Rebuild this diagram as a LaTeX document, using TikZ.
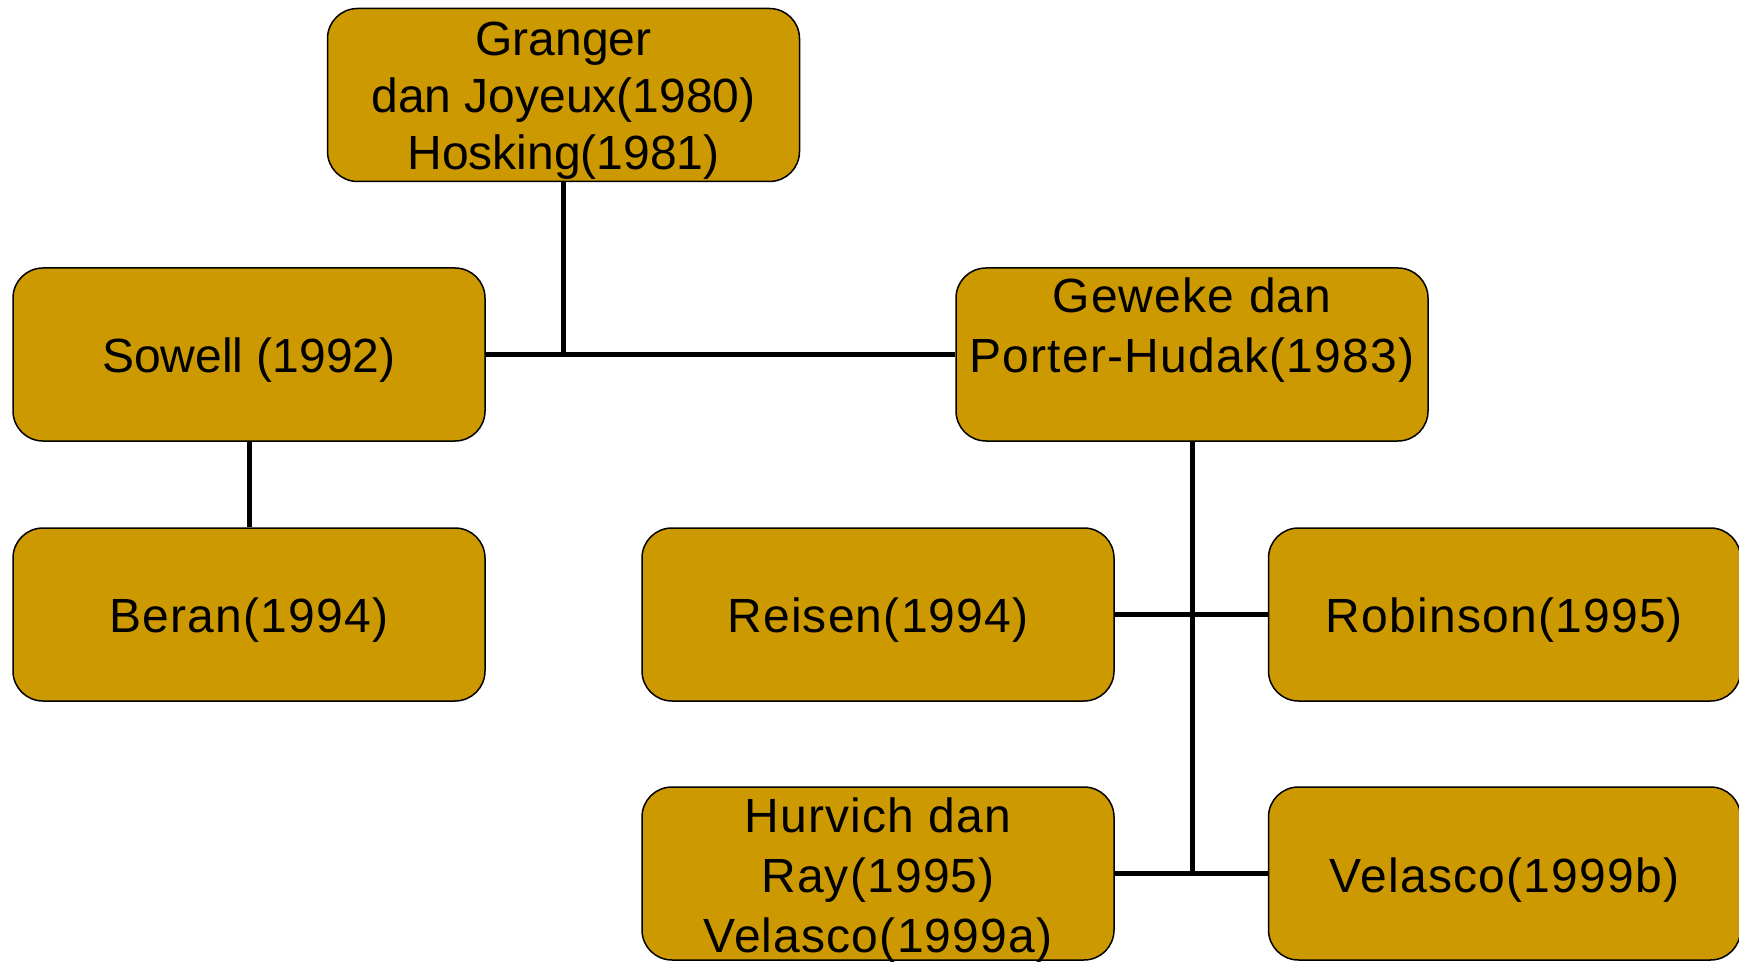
\documentclass[tikz,border=0pt]{standalone}
\usepackage{fontspec}
\setmainfont{Liberation Sans}
\newfontfamily\widefont{Liberation Sans}[LetterSpace=2.5]
\usepackage{tikz}
\definecolor{boxgold}{RGB}{204,153,0}
\tikzset{
  litbox/.style={draw=black, line width=0.75pt, fill=boxgold, rounded corners=15pt,
    minimum width=236pt, minimum height=86.5pt, inner sep=0pt},
  boxtext/.style={inner sep=0pt, align=center, font=\widefont\fontsize{24}{30}\selectfont},
  link/.style={draw=black, line width=2.5pt}
}

\begin{document}
\begin{tikzpicture}[x=0.5pt,y=0.5pt,yscale=-1,xscale=1]
\useasboundingbox (0,0) rectangle (1739,962);

%Boxes
\node [litbox] (granger) at (563.5,95) {};
\node [litbox] (sowell) at (249,354.5) {};
\node [litbox] (geweke) at (1192,354.5) {};
\node [litbox] (beran) at (249,614.5) {};
\node [litbox] (reisen) at (878,614.5) {};
\node [litbox] (robinson) at (1504.5,614.5) {};
\node [litbox] (hurvich) at (878,873.5) {};
\node [litbox] (velascob) at (1504.5,873.5) {};

% Text Nodes
\node [boxtext, font=\rmfamily\fontsize{24}{28.5}\selectfont] (granger-t) at (563.5,101) {Granger\\dan Joyeux(1980)\\Hosking(1981)};
\node [boxtext, font=\rmfamily\fontsize{24}{29}\selectfont] (sowell-t) at (249,360.5) {Sowell (1992)};
\node [boxtext] (geweke-t) at (1192,330.5) {Geweke dan\\Porter-Hudak(1983)};
\node [boxtext] (beran-t) at (249,620.5) {Beran(1994)};
\node [boxtext] (reisen-t) at (878,620.5) {Reisen(1994)};
\node [boxtext] (robinson-t) at (1504.5,620.5) {Robinson(1995)};
\node [boxtext] (hurvich-t) at (878,880) {Hurvich dan\\Ray(1995)\\Velasco(1999a)};
\node [boxtext] (velascob-t) at (1504.5,880) {Velasco(1999b)};

%Connectors
\draw [link] (granger.south) -- (granger.south |- sowell.east);
\draw [link] (sowell.east) -- (geweke.west);
\draw [link] (sowell.south) -- (beran.north);
\draw [link] (geweke.south) -- (geweke.south |- hurvich.east);
\draw [link] (reisen.east) -- (robinson.west);
\draw [link] (hurvich.east) -- (velascob.west);

\end{tikzpicture}
\end{document}
